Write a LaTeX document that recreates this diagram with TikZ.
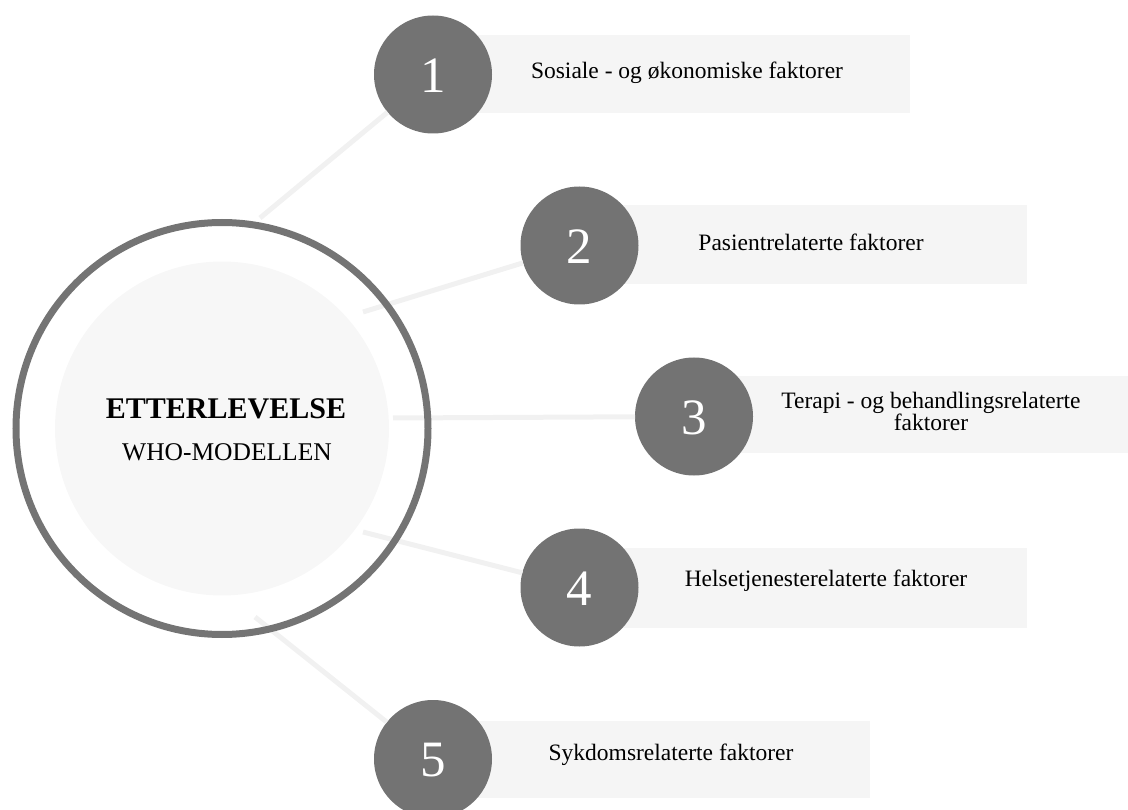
\documentclass[tikz,border=0pt]{standalone}
\usepackage{fontspec}
\setmainfont{Liberation Serif}
\definecolor{ringgray}{HTML}{747474}
\definecolor{dotgray}{HTML}{737373}
\definecolor{innerfill}{HTML}{F7F7F7}
\definecolor{rectfill}{HTML}{F5F5F5}
\definecolor{linkgray}{HTML}{F1F1F1}
\tikzset{
  numdot/.style={circle, fill=dotgray, draw=none, minimum size=118pt, inner sep=0pt, outer sep=0pt,
    text=white},
  numlabel/.style={inner sep=0pt, text=white, font=\fontsize{51}{51}\selectfont},
  factorbox/.style={rectangle, fill=rectfill, draw=none, inner sep=0pt, outer sep=0pt},
  factortext/.style={inner sep=0pt, align=center, font=\fontsize{23.5}{22}\selectfont},
  link/.style={draw=linkgray, line width=5pt},
}
\begin{document}
\begin{tikzpicture}[x=1pt,y=-1pt]
\useasboundingbox (0,0) rectangle (1128,810);
\clip (0,0) rectangle (1128,810);
% connector start points
\coordinate (s1) at (260,218);
\coordinate (s2) at (363,312);
\coordinate (s3) at (393,418);
\coordinate (s4) at (363,532);
\coordinate (s5) at (255,617);
% boxes
\node[factorbox, minimum width=477pt, minimum height=78pt] (r1) at (671.5,74) {};
\node[factorbox, minimum width=448pt, minimum height=79pt] (r2) at (803,244.5) {};
\node[factorbox, minimum width=434pt, minimum height=77pt] (r3) at (911,414.5) {};
\node[factorbox, minimum width=448pt, minimum height=80pt] (r4) at (803,588) {};
\node[factorbox, minimum width=437pt, minimum height=77pt] (r5) at (651.5,759.5) {};
% number circles
\node[numdot] (c1) at (433,74.5) {};
\node[numdot] (c2) at (579.5,245.5) {};
\node[numdot] (c3) at (694,416.5) {};
\node[numdot] (c4) at (579.5,587.5) {};
\node[numdot] (c5) at (433,759) {};
\node[numlabel] (n1) at (433,76) {1};
\node[numlabel] (n2) at (579.5,247) {2};
\node[numlabel] (n3) at (694,418) {3};
\node[numlabel] (n4) at (579.5,589) {4};
\node[numlabel] (n5) at (433,760.5) {5};
% connectors
\draw[link] (s1) -- (c1);
\draw[link] (s2) -- (c2);
\draw[link] (s3) -- (c3);
\draw[link] (s4) -- (c4);
\draw[link] (s5) -- (c5);
% central circle
\node[circle, fill=innerfill, minimum size=334pt, inner sep=0pt] (inner) at (222,428.5) {};
\node[circle, draw=ringgray, line width=7pt, minimum size=412pt, inner sep=0pt] (ring) at (222,428.5) {};
\node[font=\fontsize{30}{30}\selectfont\bfseries, inner sep=0pt] (title) at (226,409) {ETTERLEVELSE};
\node[font=\fontsize{25.5}{25.5}\selectfont, inner sep=0pt] (subtitle) at (227,452) {WHO-MODELLEN};
% labels
\node[factortext] (t1) at (687,73) {Sosiale - og økonomiske faktorer};
\node[factortext] (t2) at (811,242) {Pasientrelaterte faktorer};
\node[factortext] (t3) at (931,411) {Terapi - og behandlingsrelaterte\\faktorer};
\node[factortext] (t4) at (826,581) {Helsetjenesterelaterte faktorer};
\node[factortext] (t5) at (671,755) {Sykdomsrelaterte faktorer};
\end{tikzpicture}
\end{document}
